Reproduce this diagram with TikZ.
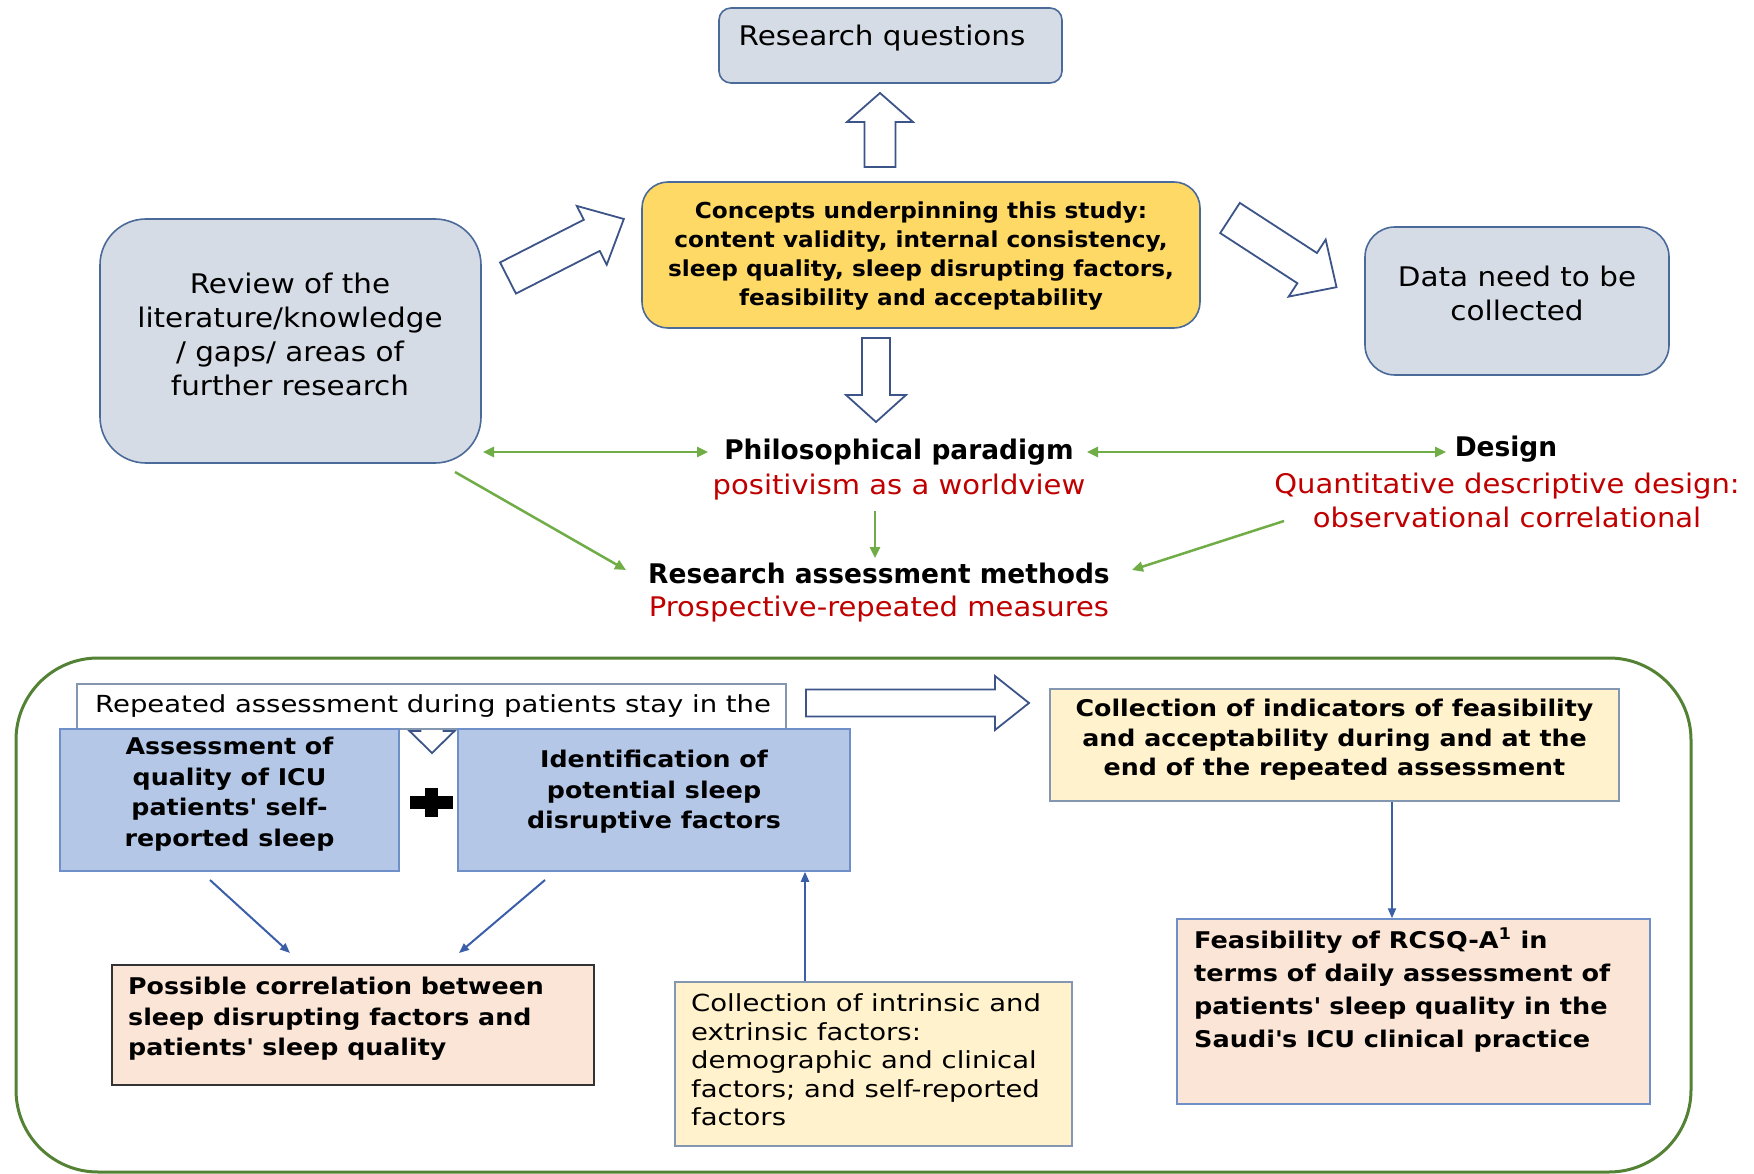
\documentclass[tikz,border=0pt]{standalone}
\usepackage{fontspec}
\setmainfont{DejaVu Sans}
\usetikzlibrary{arrows.meta}

\definecolor{topfill}{HTML}{D6DCE5}
\definecolor{topline}{HTML}{4A6A9A}
\definecolor{goldfill}{HTML}{FFD966}
\definecolor{bluefill}{HTML}{B4C7E7}
\definecolor{blueline}{HTML}{6F8FC9}
\definecolor{peachfill}{HTML}{FBE5D6}
\definecolor{creamfill}{HTML}{FFF2CC}
\definecolor{greyline}{HTML}{8497B0}
\definecolor{arrowline}{HTML}{3C5488}
\definecolor{linkgreen}{HTML}{70AD47}
\definecolor{framegreen}{HTML}{548235}
\definecolor{linkblue}{HTML}{3A5FA8}
\definecolor{notered}{HTML}{C00000}

% hollow block arrow: tail point, canvas angle, length, shaft width, head width, head length
\newcommand\blockarrow[7]{%
  \begin{scope}[shift={(#1,#2)},rotate=#3]
    \draw[barrow] (0,-#5/2) -- (#4-#7,-#5/2) -- (#4-#7,-#6/2) -- (#4,0)
      -- (#4-#7,#6/2) -- (#4-#7,#5/2) -- (0,#5/2) -- cycle;
  \end{scope}}
\newcommand\apos{\textquotesingle}
\newcommand\widen[1]{\addfontfeatures{FakeStretch=#1}}

\tikzset{
  barrow/.style={draw=arrowline, fill=white, line width=1.8pt, line join=miter},
  topbox/.style={draw=topline, fill=topfill, line width=1.6pt},
  bigtxt/.style={inner sep=0pt, align=center, font=\fontsize{27}{34}\selectfont\widen{1.09}},
  boldbig/.style={inner sep=0pt, font=\fontsize{27}{34}\selectfont\bfseries\widen{0.98}},
  redbig/.style={inner sep=0pt, align=center, text=notered, font=\fontsize{27}{34}\selectfont\widen{1.075}},
  sqbox/.style={line width=1.5pt},
  smalltxt/.style={inner sep=0pt, font=\fontsize{23.5}{28.5}\selectfont\widen{1.17}},
  smallbold/.style={inner sep=0pt, font=\fontsize{23}{30.5}\selectfont\bfseries\widen{1.1}},
  glink/.style={draw=linkgreen, line width=2.5pt, -{Triangle[length=11pt,width=10pt]}},
  glinkboth/.style={draw=linkgreen, line width=2.5pt, {Triangle[length=11pt,width=10pt]}-{Triangle[length=11pt,width=10pt]}},
  blink/.style={draw=linkblue, line width=2pt, -{Triangle[length=10pt,width=8pt]}},
}

\begin{document}
\begin{tikzpicture}[x=1pt,y=-1pt]
\useasboundingbox (0,0) rectangle (1754,1174);
\fill[white] (0,0) rectangle (1754,1174);

% ---------- upper part ----------
\node[topbox, rounded corners=12pt, minimum width=343pt, minimum height=75pt] (rq) at (890.5,45.5) {};
\node[bigtxt] (rqt) at (882,38) {Research questions};

\node[draw=topline, fill=goldfill, line width=1.6pt, rounded corners=26pt,
      minimum width=558pt, minimum height=146pt] (concepts) at (921,255) {};
\node[inner sep=0pt, align=center, font=\fontsize{22}{29.2}\selectfont\bfseries\widen{1.055}] (conceptst) at (921,256)
  {Concepts underpinning this study:\\content validity, internal consistency,\\sleep quality, sleep disrupting factors,\\feasibility and acceptability};

\node[topbox, rounded corners=46pt, minimum width=381pt, minimum height=244pt] (review) at (290.5,341) {};
\node[bigtxt] (reviewt) at (290,334) {Review of the\\literature/knowledge\\/ gaps/ areas of\\further research};

\node[topbox, rounded corners=30pt, minimum width=304pt, minimum height=148pt] (data) at (1517,301) {};
\node[bigtxt] (datat) at (1517,293) {Data need to be\\collected};

\blockarrow{880}{167}{90}{74}{31}{66}{29}
\blockarrow{876}{338}{-90}{84}{28}{60}{27}
\blockarrow{508}{278}{27}{130}{35}{66}{36}
\blockarrow{1230}{218}{-33}{127}{36}{68}{35}

\node[boldbig] (paradigm) at (899,452) {Philosophical paradigm};
\node[redbig] (positivism) at (899,487) {positivism as a worldview};
\node[boldbig] (design) at (1506,449) {Design};
\node[redbig] (designt) at (1507,500) {Quantitative descriptive design:\\observational correlational};
\node[boldbig] (methods) at (879,573) {Research assessment methods};
\node[redbig] (methodst) at (879,609) {Prospective-repeated measures};

\coordinate (revR) at (483,452);
\coordinate (parL) at (708,452);
\coordinate (parR) at (1087,452);
\coordinate (desL) at (1446,452);
\draw[glinkboth] (revR) -- (parL);
\draw[glinkboth] (parR) -- (desL);
\draw[glink] (875,511) -- (875,558);
\draw[glink] (455,472) -- (626,570);
\draw[glink] (1284,521) -- (1132,570);

% ---------- lower part ----------
\draw[framegreen, line width=3pt, rounded corners=82pt] (16,658) rectangle (1691,1172);

\blockarrow{432}{700}{-90}{53}{23}{45}{22}
\node[draw=greyline, fill=white, line width=1.5pt, minimum width=709pt, minimum height=45pt] (repeated) at (431.5,706.5) {};
\node[smalltxt, anchor=west] (repeatedt) at (95,706) {Repeated assessment during patients stay in the};

\node[sqbox, draw=blueline, fill=bluefill, minimum width=339pt, minimum height=142pt] (assess) at (229.5,800) {};
\node[smallbold, align=center] (assesst) at (229.5,794) {Assessment of\\quality of ICU\\patients\apos{} self-\\reported sleep};
\node[sqbox, draw=blueline, fill=bluefill, minimum width=392pt, minimum height=142pt] (ident) at (654,800) {};
\node[smallbold, align=center] (identt) at (654,792) {Identification of\\potential sleep\\disruptive factors};

\fill[black] (409.5,796) rectangle (452.5,809);
\fill[black] (424.5,788) rectangle (437.5,817);

\blockarrow{806}{703}{0}{223}{27}{54}{34}

\node[sqbox, draw=greyline, fill=creamfill, minimum width=569pt, minimum height=112pt] (indic) at (1334.5,745) {};
\node[smallbold, align=center, font=\fontsize{23}{29.5}\selectfont\bfseries\widen{1.1}] (indict) at (1334.5,740)
  {Collection of indicators of feasibility\\and acceptability during and at the\\end of the repeated assessment};

\node[sqbox, draw=black!80, fill=peachfill, minimum width=482pt, minimum height=120pt] (corr) at (353,1025) {};
\node[smallbold, align=left, anchor=west] (corrt) at (128,1019)
  {Possible correlation between\\sleep disrupting factors and\\patients\apos{} sleep quality};

\node[sqbox, draw=greyline, fill=creamfill, minimum width=397pt, minimum height=164pt] (intrin) at (873.5,1064) {};
\node[smalltxt, align=left, anchor=west] (intrint) at (691,1060)
  {Collection of intrinsic and\\extrinsic factors:\\demographic and clinical\\factors; and self-reported\\factors};

\node[sqbox, draw=blueline, fill=peachfill, minimum width=473pt, minimum height=185pt] (feas) at (1413.5,1011.5) {};
\node[inner sep=0pt, align=left, anchor=west, font=\fontsize{23}{33}\selectfont\bfseries\widen{1.11}] (feast) at (1194,990)
  {Feasibility of RCSQ-A\textsuperscript{1} in\\terms of daily assessment of\\patients\apos{} sleep quality in the\\Saudi\apos{}s ICU clinical practice};

\draw[blink] (210,880) -- (290,953);
\draw[blink] (545,880) -- (459,953);
\draw[blink] (intrin.north -| 805,0) -- (ident.south -| 805,0);
\draw[blink] (indic.south -| 1392,0) -- (feas.north -| 1392,0);
\end{tikzpicture}
\end{document}
